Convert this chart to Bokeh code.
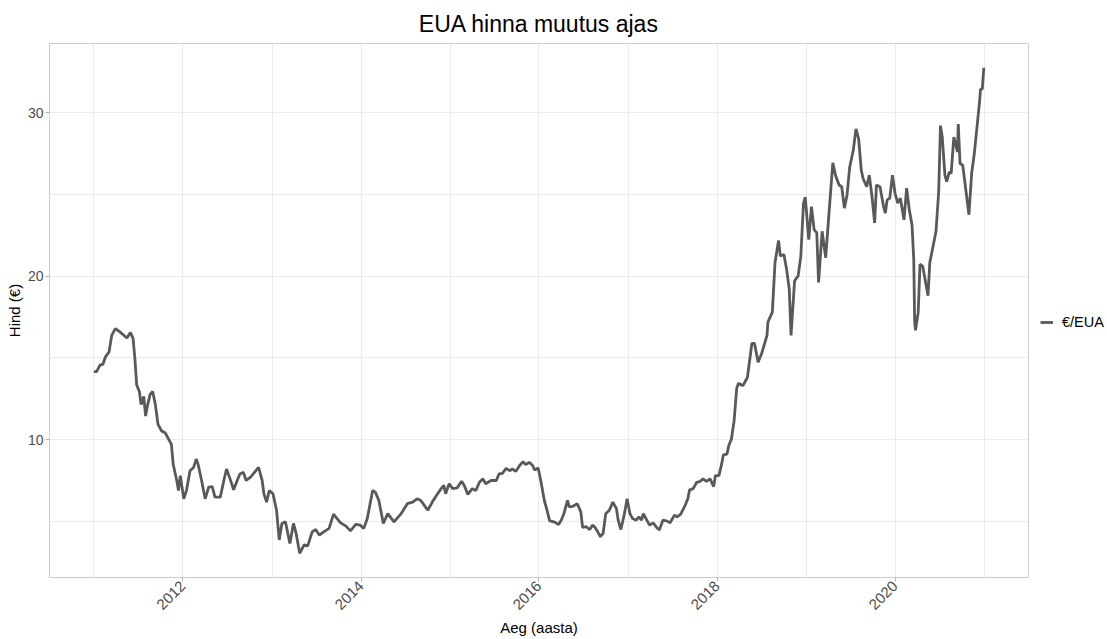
import math
import pandas as pd
from bokeh.plotting import figure
from bokeh.layouts import row
from bokeh.models import FixedTicker, DatetimeTickFormatter, Range1d, Legend, LegendItem, ColumnDataSource
from bokeh.embed import file_html
from bokeh.resources import INLINE

# decimal years and EUA price (€/EUA)
years = [
    2011.00, 2011.03, 2011.07, 2011.10, 2011.13, 2011.17, 2011.20, 2011.24, 2011.29, 2011.37,
    2011.41, 2011.44, 2011.46, 2011.48, 2011.51, 2011.53, 2011.56, 2011.58, 2011.60, 2011.63,
    2011.66, 2011.69, 2011.72, 2011.76, 2011.80, 2011.84, 2011.87, 2011.89, 2011.93, 2011.95,
    2011.97, 2012.01, 2012.04, 2012.08, 2012.12, 2012.15, 2012.17, 2012.21, 2012.25, 2012.29,
    2012.33, 2012.36, 2012.42, 2012.46, 2012.49, 2012.53, 2012.57, 2012.61, 2012.64, 2012.68,
    2012.71, 2012.76, 2012.79, 2012.85, 2012.89, 2012.91, 2012.94, 2012.97, 2013.01, 2013.05,
    2013.08, 2013.11, 2013.15, 2013.20, 2013.24, 2013.27, 2013.31, 2013.36, 2013.40, 2013.45,
    2013.49, 2013.53, 2013.58, 2013.64, 2013.69, 2013.73, 2013.77, 2013.83, 2013.88, 2013.94,
    2013.99, 2014.03, 2014.07, 2014.13, 2014.16, 2014.20, 2014.25, 2014.30, 2014.37, 2014.45,
    2014.52, 2014.58, 2014.63, 2014.67, 2014.75, 2014.80, 2014.86, 2014.90, 2014.93, 2014.95,
    2014.99, 2015.03, 2015.08, 2015.13, 2015.16, 2015.20, 2015.25, 2015.29, 2015.33, 2015.37,
    2015.40, 2015.46, 2015.52, 2015.55, 2015.59, 2015.63, 2015.67, 2015.70, 2015.74, 2015.78,
    2015.82, 2015.85, 2015.89, 2015.93, 2015.95, 2015.99, 2016.02, 2016.06, 2016.09, 2016.12,
    2016.17, 2016.22, 2016.25, 2016.28, 2016.32, 2016.34, 2016.38, 2016.43, 2016.47, 2016.49,
    2016.53, 2016.57, 2016.60, 2016.63, 2016.66, 2016.69, 2016.72, 2016.75, 2016.79, 2016.83,
    2016.87, 2016.89, 2016.92, 2016.96, 2016.99, 2017.02, 2017.05, 2017.09, 2017.12, 2017.15,
    2017.17, 2017.20, 2017.24, 2017.28, 2017.32, 2017.35, 2017.39, 2017.43, 2017.47, 2017.52,
    2017.55, 2017.59, 2017.64, 2017.67, 2017.69, 2017.73, 2017.77, 2017.81, 2017.84, 2017.88,
    2017.92, 2017.96, 2017.98, 2018.02, 2018.05, 2018.07, 2018.11, 2018.13, 2018.16, 2018.19,
    2018.22, 2018.24, 2018.29, 2018.34, 2018.39, 2018.42, 2018.46, 2018.50, 2018.56, 2018.57,
    2018.62, 2018.65, 2018.69, 2018.71, 2018.75, 2018.78, 2018.81, 2018.83, 2018.87, 2018.91,
    2018.94, 2018.97, 2018.99, 2019.03, 2019.06, 2019.09, 2019.12, 2019.14, 2019.18, 2019.22,
    2019.26, 2019.30, 2019.33, 2019.37, 2019.40, 2019.43, 2019.46, 2019.49, 2019.53, 2019.56,
    2019.59, 2019.62, 2019.64, 2019.68, 2019.71, 2019.74, 2019.77, 2019.79, 2019.83, 2019.87,
    2019.89, 2019.91, 2019.94, 2019.97, 2020.00, 2020.03, 2020.06, 2020.10, 2020.13, 2020.16,
    2020.19, 2020.21, 2020.22, 2020.23, 2020.26, 2020.28, 2020.31, 2020.35, 2020.37, 2020.39,
    2020.42, 2020.46, 2020.49, 2020.51, 2020.53, 2020.56, 2020.58, 2020.61, 2020.63, 2020.66,
    2020.68, 2020.70, 2020.71, 2020.73, 2020.76, 2020.80, 2020.83, 2020.86, 2020.89, 2020.92,
    2020.95, 2020.96, 2020.98, 2020.997,
]
prices = [
    14.16, 14.16, 14.57, 14.60, 15.07, 15.37, 16.38, 16.79, 16.60, 16.22,
    16.55, 16.18, 14.97, 13.35, 12.95, 12.14, 12.65, 11.44, 12.04, 12.75,
    12.95, 12.14, 10.93, 10.53, 10.42, 10.02, 9.71, 8.50, 7.50, 6.89,
    7.80, 6.38, 6.89, 8.10, 8.30, 8.81, 8.50, 7.50, 6.38, 7.09,
    7.13, 6.48, 6.48, 7.50, 8.20, 7.60, 6.93, 7.50, 7.90, 8.00,
    7.50, 7.70, 7.90, 8.30, 7.50, 6.69, 6.18, 6.89, 6.69, 5.68,
    3.86, 4.87, 4.97, 3.65, 4.87, 4.26, 3.05, 3.56, 3.50, 4.36,
    4.50, 4.16, 4.36, 4.57, 5.44, 5.17, 4.91, 4.71, 4.42, 4.81,
    4.77, 4.57, 5.17, 6.89, 6.79, 6.28, 4.87, 5.47, 4.97, 5.47,
    6.08, 6.18, 6.38, 6.28, 5.68, 6.18, 6.69, 7.00, 7.20, 6.69,
    7.30, 7.00, 7.05, 7.45, 7.20, 6.65, 7.00, 6.89, 7.39, 7.60,
    7.30, 7.50, 7.50, 7.90, 7.94, 8.24, 8.10, 8.20, 8.06, 8.40,
    8.65, 8.47, 8.61, 8.40, 8.14, 8.26, 7.50, 6.28, 5.68, 5.03,
    4.97, 4.81, 5.07, 5.47, 6.28, 5.88, 5.92, 6.08, 5.58, 4.63,
    4.67, 4.50, 4.77, 4.63, 4.36, 4.06, 4.26, 5.47, 5.68, 6.18,
    5.78, 5.07, 4.50, 5.47, 6.38, 5.47, 5.17, 5.07, 5.27, 5.07,
    5.47, 5.17, 4.77, 4.91, 4.63, 4.47, 5.07, 5.03, 4.91, 5.38,
    5.27, 5.44, 5.98, 6.38, 6.93, 7.00, 7.39, 7.45, 7.60, 7.45,
    7.60, 7.13, 7.80, 7.80, 8.50, 9.07, 9.11, 9.62, 10.02, 11.13,
    13.15, 13.45, 13.30, 13.80, 15.88, 15.88, 14.73, 15.27, 16.38, 17.19,
    17.80, 20.83, 22.18, 21.23, 21.33, 20.42, 19.21, 16.38, 19.72, 20.02,
    21.23, 24.47, 24.83, 22.24, 24.26, 22.85, 22.65, 19.62, 22.75, 21.13,
    24.06, 26.93, 26.18, 25.58, 25.47, 24.16, 24.97, 26.68, 27.70, 29.01,
    28.41, 26.48, 25.98, 25.47, 26.18, 24.87, 23.25, 25.58, 25.47, 24.26,
    23.86, 24.67, 24.77, 26.18, 25.07, 24.47, 24.77, 23.45, 25.38, 24.06,
    23.15, 21.03, 17.19, 16.69, 17.80, 20.73, 20.62, 19.41, 18.81, 20.83,
    21.64, 22.75, 25.17, 29.21, 28.51, 26.18, 25.78, 26.38, 26.28, 28.51,
    28.10, 27.60, 29.31, 26.89, 26.79, 25.07, 23.76, 26.28, 27.50, 29.11,
    30.73, 31.44, 31.44, 32.75,
]
major_years = [2012, 2014, 2016, 2018, 2020]
minor_years = [2011, 2013, 2015, 2017, 2019, 2021]
y_major = [10, 20, 30]
y_minor = [5, 15, 25]
title_text = "EUA hinna muutus ajas"
x_label = "Aeg (aasta)"
y_label = "Hind (€)"
series_label = "€/EUA"

FONT = "Liberation Sans"
LINE_COLOR = "#595959"
LINE_WIDTH = 2.8


def to_ts(y):
    yi = int(y)
    return pd.Timestamp(year=yi, month=1, day=1) + pd.Timedelta(days=(y - yi) * 365.25)


dates = [to_ts(y) for y in years]
src = ColumnDataSource(dict(date=dates, price=prices))

xmin, xmax = min(years), max(years)
xpad = (xmax - xmin) * 0.05
ymin, ymax = min(prices), max(prices)
ypad = (ymax - ymin) * 0.05

H = 639
MAIN_W = 1030
LEG_W = 77

p = figure(width=MAIN_W, height=H, x_axis_type="datetime", output_backend="svg",
           toolbar_location=None,
           x_range=Range1d(to_ts(xmin - xpad), to_ts(xmax + xpad)),
           y_range=Range1d(ymin - ypad, ymax + ypad),
           min_border_left=49, min_border_right=2, min_border_top=43, min_border_bottom=57)

r = p.line("date", "price", source=src, line_color=LINE_COLOR, line_width=LINE_WIDTH)

ms = lambda y: pd.Timestamp(year=y, month=1, day=1).value // 10**6
p.xaxis.ticker = FixedTicker(ticks=[ms(y) for y in major_years], minor_ticks=[ms(y) for y in minor_years])
p.xaxis.formatter = DatetimeTickFormatter(years="%Y", months="%Y", days="%Y", hours="%Y",
                                          hourmin="%Y", minutes="%Y", minsec="%Y", seconds="%Y",
                                          milliseconds="%Y", microseconds="%Y", context=None)
p.yaxis.ticker = FixedTicker(ticks=y_major, minor_ticks=y_minor)

p.title.text = title_text
p.title.align = "center"
p.title.text_font = FONT
p.title.text_font_size = "23px"
p.title.text_font_style = "normal"
p.title.text_color = "#000000"
p.title.standoff = 14

for ax in (p.xaxis, p.yaxis):
    ax.axis_line_color = None
    ax.major_tick_line_color = "#B3B3B3"
    ax.major_tick_out = 4
    ax.major_tick_in = 0
    ax.minor_tick_line_color = None
    ax.major_label_text_font = FONT
    ax.major_label_text_font_size = "15px"
    ax.major_label_text_color = "#4D4D4D"
    ax.axis_label_text_font = FONT
    ax.axis_label_text_font_size = "15px"
    ax.axis_label_text_font_style = "normal"
    ax.axis_label_text_color = "#000000"
    ax.major_label_standoff = 2
    ax.axis_label_standoff = 2

p.yaxis.major_label_text_font_size = "14px"
p.xaxis.axis_label = x_label
p.yaxis.axis_label = y_label
p.xaxis.major_label_orientation = math.pi / 4

p.xgrid.grid_line_color = "#EBEBEB"
p.ygrid.grid_line_color = "#EBEBEB"
p.xgrid.minor_grid_line_color = "#EBEBEB"
p.ygrid.minor_grid_line_color = "#EBEBEB"
p.outline_line_color = "#CCCCCC"
p.outline_line_width = 1
p.background_fill_color = "#FFFFFF"
p.border_fill_color = "#FFFFFF"

# legend panel to the right of the plot; its ranges keep the series itself out of view
lg = figure(width=LEG_W, height=H, output_backend="svg", toolbar_location=None,
            x_range=Range1d(0, 1), y_range=Range1d(0, 1), min_border=0)
lg.xaxis.visible = False
lg.yaxis.visible = False
lg.xgrid.visible = False
lg.ygrid.visible = False
lg.outline_line_color = None
lg.background_fill_color = "#FFFFFF"
lg.border_fill_color = "#FFFFFF"
r2 = lg.line("date", "price", source=src, line_color=LINE_COLOR, line_width=LINE_WIDTH)
legend = Legend(items=[LegendItem(label=series_label, renderers=[r2])],
                location=(10, 247), border_line_color=None, background_fill_alpha=0,
                label_text_font=FONT, label_text_font_size="14.5px", label_text_color="#000000",
                glyph_width=13, glyph_height=14, label_standoff=9, padding=4, margin=0)
lg.add_layout(legend, "center")

layout = row(p, lg, spacing=0)

with open("out.html", "w") as f:
    f.write(file_html(layout, INLINE))
